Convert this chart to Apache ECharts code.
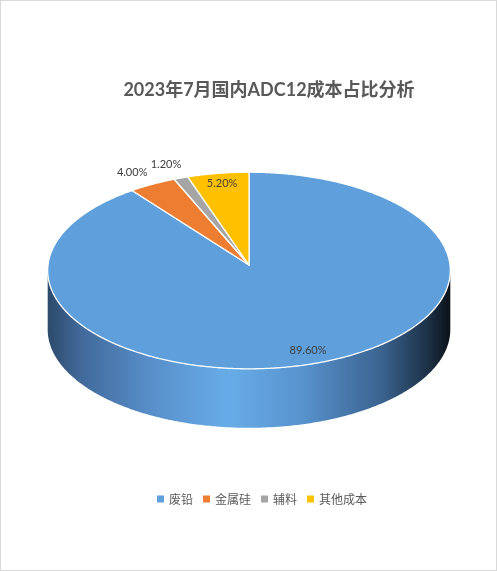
<!DOCTYPE html>
<html>
<head>
<meta charset="utf-8">
<script src="https://cdn.jsdelivr.net/npm/echarts@6/dist/echarts.min.js"></script>
<style>
  html, body { margin: 0; padding: 0; background: #fff; }
  #chart { width: 497px; height: 571px; box-sizing: border-box; border: 1px solid #d9d9d9; }
</style>
</head>
<body>
<div id="chart"></div>
<script>
// 数据
const categories = ['废铅', '金属硅', '辅料', '其他成本'];
const shares = [89.6, 4.0, 1.2, 5.2];
const colors = ['#5e9fdc', '#ed7d31', '#a5a5a5', '#ffc000'];
// 标签位置（水平、垂直相对半径）
const labelRadius = [[0.866, 0.867], [1.21, 1.14], [1.22, 1.16], [0.87, 0.89]];

// 3D 饼图几何
const CX = 248, CY = 264, RX = 201, RY = 98, P = 0.056, DEPTH = 59;
const total = shares.reduce((a, b) => a + b, 0);
const silA = Math.acos(-P) * 180 / Math.PI;

function proj(a, rx, ry) {
  const t = a * Math.PI / 180;
  const f = 1 / (1 + P * Math.cos(t));
  return [CX + rx * RX * Math.sin(t) * f, CY - (ry === undefined ? rx : ry) * RY * Math.cos(t) * f];
}

const sideFill = new echarts.graphic.LinearGradient(CX - RX, 0, CX + RX, 0, [
  { offset: 0, color: '#2c4a6b' },
  { offset: 0.08, color: '#41699a' },
  { offset: 0.26, color: '#5890cb' },
  { offset: 0.45, color: '#67ace8' },
  { offset: 0.63, color: '#5893ce' },
  { offset: 0.83, color: '#3b6390' },
  { offset: 0.95, color: '#1b2e43' },
  { offset: 1, color: '#0b1219' }
], true);

function renderSlice(idx) {
  return function (params, api) {
    let before = 0;
    for (let k = 0; k < idx; k++) before += shares[k];
    const a0 = before / total * 360;
    const a1 = a0 + api.value(0) / total * 360;
    const children = [];

    // 侧面
    const s0 = Math.max(a0, silA), s1 = Math.min(a1, 360 - silA);
    if (s1 > s0) {
      const pts = [];
      for (let a = s0; a <= s1; a += 0.5) pts.push(proj(a, 1));
      pts.push(proj(s1, 1));
      const back = [];
      for (let a = s1; a >= s0; a -= 0.5) { const p = proj(a, 1); back.push([p[0], p[1] + DEPTH]); }
      const pb = proj(s0, 1);
      back.push([pb[0], pb[1] + DEPTH]);
      children.push({
        type: 'polygon',
        shape: { points: pts.concat(back) },
        style: { fill: sideFill, stroke: null }
      });
    }

    // 顶面
    const top = [[CX, CY]];
    for (let a = a0; a <= a1; a += 0.5) top.push(proj(a, 1));
    top.push(proj(a1, 1));
    children.push({
      type: 'polygon',
      shape: { points: top },
      style: { fill: colors[idx], stroke: '#ffffff', lineWidth: 1.3, lineJoin: 'round' }
    });

    // 标签
    const lr = labelRadius[idx];
    const lp = proj((a0 + a1) / 2, lr[0], lr[1]);
    children.push({
      type: 'text',
      x: lp[0],
      y: lp[1],
      style: {
        text: shares[idx].toFixed(2) + '%',
        fill: '#404040',
        font: '11px Lato, "Noto Sans", sans-serif',
        align: 'center',
        verticalAlign: 'middle'
      }
    });
    return { type: 'group', children: children };
  };
}

const chart = echarts.init(document.getElementById('chart'), null, { renderer: 'canvas' });
chart.setOption({
  animation: false,
  backgroundColor: '#ffffff',
  title: {
    text: '2023年7月国内ADC12成本占比分析',
    left: 263,
    textAlign: 'center',
    top: 75,
    textStyle: {
      fontSize: 18,
      fontWeight: 'bold',
      color: '#595959',
      fontFamily: 'Lato, "Noto Sans CJK SC", sans-serif'
    }
  },
  legend: {
    data: categories,
    left: 151,
    top: 487,
    icon: 'rect',
    itemWidth: 7,
    itemHeight: 7,
    itemGap: 10,
    textStyle: { fontSize: 12, color: '#595959', fontFamily: '"Noto Sans CJK SC", sans-serif' }
  },
  series: categories.map((name, i) => ({
    type: 'custom',
    name: name,
    coordinateSystem: 'none',
    silent: true,
    itemStyle: { color: colors[i] },
    data: [[shares[i]]],
    renderItem: renderSlice(i)
  }))
});
window.addEventListener('resize', () => chart.resize());
</script>
</body>
</html>
